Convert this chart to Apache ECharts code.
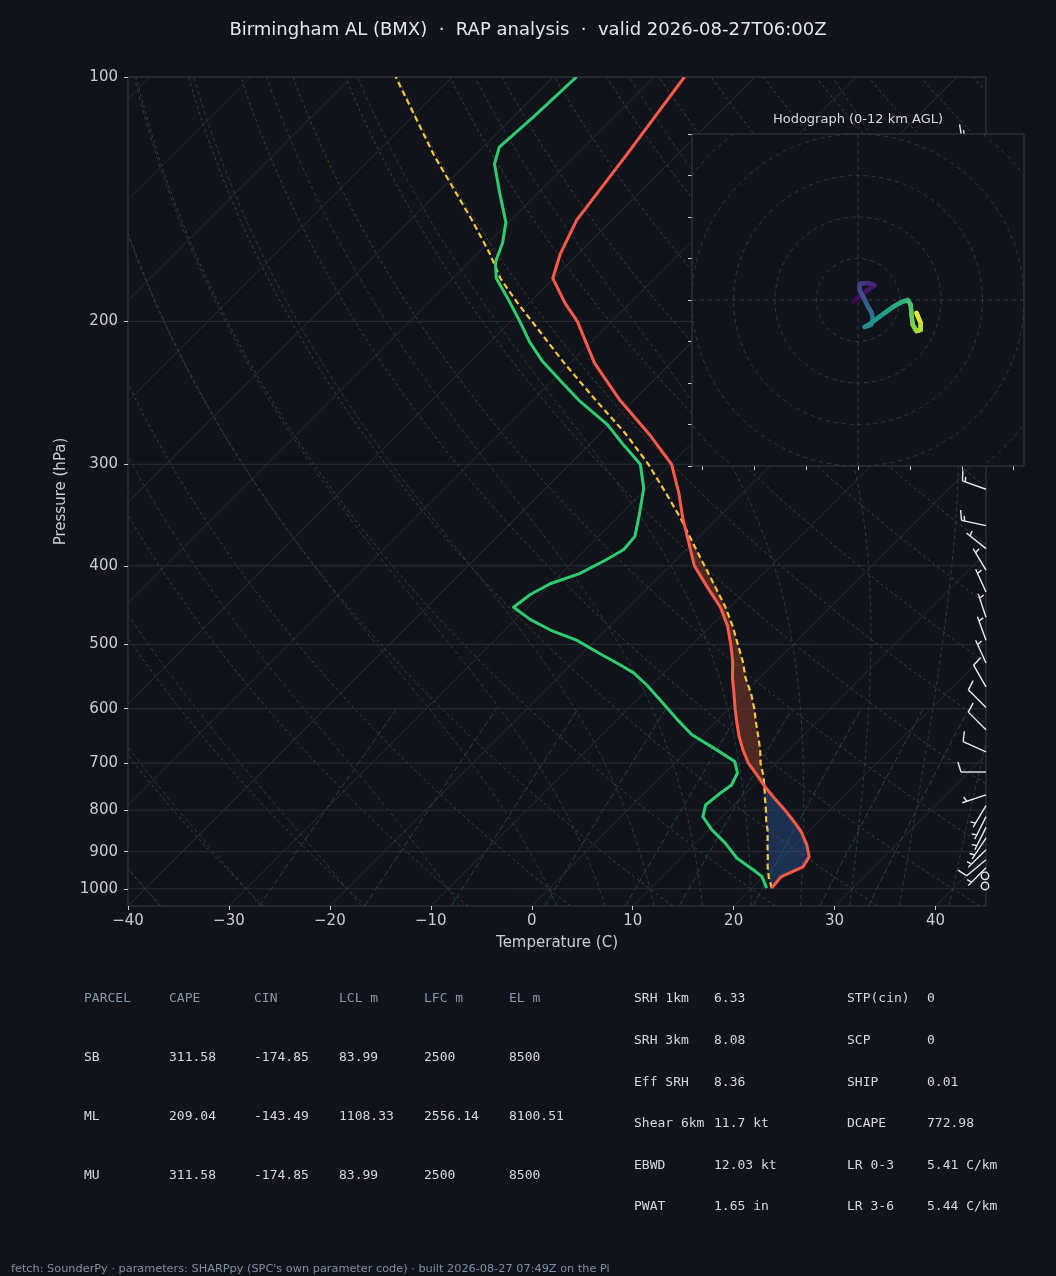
<!DOCTYPE html>
<html><head><meta charset="utf-8">
<script src="https://cdn.jsdelivr.net/npm/echarts@6/dist/echarts.min.js"></script>
<style>html,body{margin:0;padding:0;background:#10141a;}#c{width:1056px;height:1276px;}</style>
</head><body><div id="c"></div>
<script>
// ---------------- data ----------------
const titleText = 'Birmingham AL (BMX)  \u00b7  RAP analysis  \u00b7  valid 2026-08-27T06:00Z';
const hodoTitle = 'Hodograph (0-12 km AGL)';
const footerText = "fetch: SounderPy \u00b7 parameters: SHARPpy (SPC's own parameter code) \u00b7 built 2026-08-27 07:49Z on the Pi";

// temperature profile (hPa, degC) and surface-based parcel at the same levels
const tempP = [998,967,940,913,883,850,825,800,775,750,725,700,675,650,625,600,575,550,525,500,475,450,425,400,375,350,325,300,275,250,225,200,190,177,165,150,125,100];
const tempC = [22.0,21.8,23.0,22.6,21.2,19.3,17.5,15.6,13.5,11.4,9.4,7.3,5.5,3.8,2.2,0.6,-1.0,-2.7,-4.3,-6.2,-8.3,-10.9,-14.2,-17.6,-20.4,-23.4,-26.4,-29.9,-35.2,-41.4,-47.6,-53.4,-56.4,-60.1,-61.8,-63.5,-65.0,-67.0];
const parcelC = [22.0,20.6,19.5,18.5,17.3,16.0,14.8,13.7,12.5,11.3,10.0,8.5,7.2,5.7,4.1,2.5,0.7,-1.4,-3.3,-5.5,-7.8,-10.4,-13.4,-16.6,-20.0,-23.6,-27.7,-32.2,-37.5,-43.8,-50.6,-57.9,-61.1,-65.3,-68.8,-73.9,-84.0,-95.6];

// dewpoint profile
const dewP = [998,966,948,917,878,846,815,788,762,745,720,697,671,646,622,588,561,542,530,513,494,480,466,450,434,421,409,393,382,368,345,321,300,283,268,251,237,224,212,200,188,177,169,160,151,139,128,122,112,100];
const dewC = [21.5,19.9,18.4,15.6,12.9,10.3,8.1,7.2,7.5,7.8,7.2,5.8,2.4,-1.1,-3.7,-7.4,-10.5,-13.0,-15.1,-18.3,-21.9,-25.5,-28.5,-31.4,-31.0,-30.1,-28.2,-26.9,-26.2,-26.4,-28.2,-30.3,-33.0,-36.8,-40.2,-45.2,-49.1,-52.9,-56.1,-59.1,-62.4,-65.7,-67.4,-68.6,-70.3,-73.8,-77.2,-78.4,-78.0,-77.7];

// wind barbs (hPa, u kt, v kt)
const windP = [992,964,942,921,895,866,840,815,790,766,718,678,637,598,564,527,494,463,431,405,381,357,322,300,270,240,210,180,150,119];
const windU = [0,0,3.5,6,5,4,3,3,3,6,10,9,7,7,5,2.5,2,2,2.5,3,5,14,14,14,15,15,15,15,15,14];
const windV = [0,0,3.5,5,5,6,6,6,5,2,0,-4,-7,-7,-8.7,-5.5,-5.5,-6,-5.5,-5,-4,-3,-5,-6,-5,-4,-3,-3,-3,-2];

// hodograph trace (km AGL, u kt, v kt)
const hodoH = [0,0.5,1,1.5,2,2.5,3,3.5,4,4.5,5,5.5,6,6.5,7,7.5,8,8.5,9,9.5,10,10.5,11,11.5,12];
const hodoU = [-1.2,1.4,4.0,2.3,0.4,0.4,1.4,2.3,3.3,3.6,3.1,1.6,2.8,5.2,8.4,10.5,12.0,12.7,12.9,13.2,14.1,15.1,15.1,14.4,14.1];
const hodoV = [-0.4,1.7,3.6,4.1,3.9,2.4,0.5,-1.4,-3.1,-4.8,-6.0,-6.5,-5.8,-4.0,-1.7,-0.5,0.0,-1.2,-3.6,-6.0,-7.5,-7.2,-5.5,-3.9,-3.1];
const hodoRings = [10,20,30,40,50];
const hodoXTicks = [-37.5,-25,-12.5,0,12.5,25,37.5];
const viridis = ['#440154','#482878','#3e4989','#31688e','#26828e','#1f9e89','#35b779','#6ece58','#b5de2b','#fde725'];

// axis ticks
const pressureTicks = [100,200,300,400,500,600,700,800,900,1000];
const tempTicks = [-40,-30,-20,-10,0,10,20,30,40];

// parameter tables
const tblHeaders = ['PARCEL','CAPE','CIN','LCL m','LFC m','EL m'];
const parcelNames = ['SB','ML','MU'];
const capeVals = [311.58,209.04,311.58];
const cinVals = [-174.85,-143.49,-174.85];
const lclVals = [83.99,1108.33,83.99];
const lfcVals = [2500,2556.14,2500];
const elVals = [8500,8100.51,8500];
const paramLabelsA = ['SRH 1km','SRH 3km','Eff SRH','Shear 6km','EBWD','PWAT'];
const paramValuesA = ['6.33','8.08','8.36','11.7 kt','12.03 kt','1.65 in'];
const paramLabelsB = ['STP(cin)','SCP','SHIP','DCAPE','LR 0-3','LR 3-6'];
const paramValuesB = ['0','0','0.01','772.98','5.41 C/km','5.44 C/km'];

// ---------------- reference-line definitions (thermodynamic grid) ----------------
const dryT0 = []; for (let t = -40; t <= 200; t += 10) dryT0.push(t);
const moistT0 = [-40,-30,-20,-10,0,5,10,15,20,25,30,35,40,45];
const mixW = [0.0004,0.001,0.002,0.004,0.007,0.01,0.016,0.024,0.032];
const isoT = []; for (let t = -130; t <= 40; t += 10) isoT.push(t);

const LNMIN = Math.log(100), LNMAX = Math.log(1050);
const pGrid = []; for (let i = 0; i <= 70; i++) pGrid.push(Math.exp(LNMAX - (LNMAX - LNMIN) * i / 70));

const dryLines = dryT0.map(t0 => pGrid.map(p => [(t0 + 273.15) * Math.pow(p / 1000, 0.28571) - 273.15, p]));
function moistRate(T, p) {
  const es = 6.112 * Math.exp(17.67 * (T - 273.15) / (T - 29.65));
  const rs = 0.622 * es / (p - es);
  const Rd = 287.04749, Cp = 1004.6662, Lv = 2.50084e6;
  return (Rd * T + Lv * rs) / (Cp + Lv * Lv * rs * 0.622 / (Rd * T * T));
}
function integrate(T0, lnA, lnB, n) {
  const out = [];
  let T = T0, l = lnA; const h = (lnB - lnA) / n;
  out.push([T - 273.15, Math.exp(l)]);
  for (let i = 0; i < n; i++) {
    const k1 = moistRate(T, Math.exp(l));
    const k2 = moistRate(T + h / 2 * k1, Math.exp(l + h / 2));
    const k3 = moistRate(T + h / 2 * k2, Math.exp(l + h / 2));
    const k4 = moistRate(T + h * k3, Math.exp(l + h));
    T += h / 6 * (k1 + 2 * k2 + 2 * k3 + k4); l += h;
    out.push([T - 273.15, Math.exp(l)]);
  }
  return out;
}
const moistLines = moistT0.map(t0 => {
  const down = integrate(t0 + 273.15, Math.log(1000), LNMAX, 3).reverse();
  const up = integrate(t0 + 273.15, Math.log(1000), LNMIN, 90);
  return down.concat(up.slice(1));
});
const pMix = []; for (let i = 0; i <= 12; i++) pMix.push(1050 - 450 * i / 12);
const mixLines = mixW.map(w => pMix.map(p => {
  const e = p * w / (0.622 + w); const l = Math.log(e / 6.112);
  return [243.5 * l / (17.67 - l), p];
}));
const isoLines = isoT.map(t => [[t, 1050], [t, 100]]);

// ---------------- helpers ----------------
const BG = '#10141a', SPINE = '#333d4a', TXT = '#c9cdd3';
function sk(api, T, p) {
  const c = api.coord([T, Math.log(p)]);
  const b = api.coord([T, LNMAX]);
  return [c[0] + (b[1] - c[1]), c[1]];
}
function hex2rgb(h) { return [parseInt(h.slice(1, 3), 16), parseInt(h.slice(3, 5), 16), parseInt(h.slice(5, 7), 16)]; }
function cmap(t) {
  t = Math.max(0, Math.min(1, t));
  const x = t * (viridis.length - 1), i = Math.min(viridis.length - 2, Math.floor(x)), f = x - i;
  const a = hex2rgb(viridis[i]), b = hex2rgb(viridis[i + 1]);
  return 'rgb(' + a.map((v, k) => Math.round(v + (b[k] - v) * f)).join(',') + ')';
}
function lineFamily(lines, style, z) {
  return {
    type: 'custom', coordinateSystem: 'cartesian2d', xAxisIndex: 0, yAxisIndex: 0,
    clip: true, z: z, silent: true,
    data: lines.map((_, i) => [0, i]),
    renderItem: (params, api) => ({
      type: 'polyline',
      shape: { points: lines[params.dataIndex].map(pt => sk(api, pt[0], pt[1])) },
      style: Object.assign({ fill: null }, style)
    })
  };
}
function profile(P, C, style, z) {
  return {
    type: 'custom', coordinateSystem: 'cartesian2d', xAxisIndex: 0, yAxisIndex: 0,
    clip: true, z: z, silent: true, data: [[0, 0]],
    renderItem: (params, api) => ({
      type: 'polyline',
      shape: { points: P.map((p, i) => sk(api, C[i], p)) },
      style: Object.assign({ fill: null, lineJoin: 'round' }, style)
    })
  };
}

const series = [];
// isobars
series.push({
  type: 'custom', coordinateSystem: 'cartesian2d', clip: true, z: 1, silent: true,
  data: pressureTicks.map((p) => [0, Math.log(p)]),
  renderItem: (params, api) => {
    const p = pressureTicks[params.dataIndex];
    const a = api.coord([-40, Math.log(p)]), b = api.coord([45, Math.log(p)]);
    return { type: 'line', shape: { x1: a[0], y1: a[1], x2: b[0], y2: b[1] }, style: { stroke: '#272e38', lineWidth: 1 } };
  }
});
series.push(lineFamily(isoLines, { stroke: '#272e38', lineWidth: 1 }, 1));
series.push(lineFamily(dryLines, { stroke: '#4d3d2b', lineWidth: 1, lineDash: [3, 3] }, 1));
series.push(lineFamily(moistLines, { stroke: '#243d47', lineWidth: 1, lineDash: [4, 3] }, 1));
series.push(lineFamily(mixLines, { stroke: '#26424d', lineWidth: 1, lineDash: [6, 3] }, 1));

// CIN / CAPE shading between temperature and parcel
series.push({
  type: 'custom', coordinateSystem: 'cartesian2d', clip: true, z: 2, silent: true, data: [[0, 0]],
  renderItem: (params, api) => {
    const kids = [];
    let state = 'cin';
    const add = (pts, col) => kids.push({ type: 'polygon', shape: { points: pts }, style: { fill: col } });
    for (let i = 0; i < tempP.length - 1 && state !== 'done'; i++) {
      const p0 = tempP[i], p1 = tempP[i + 1];
      const d0 = parcelC[i] - tempC[i], d1 = parcelC[i + 1] - tempC[i + 1];
      const col = state === 'cin' ? 'rgba(45,85,150,0.45)' : 'rgba(140,62,40,0.5)';
      const want = state === 'cin' ? (d => d <= 0) : (d => d >= 0);
      if (want(d0) && want(d1)) {
        add([sk(api, tempC[i], p0), sk(api, tempC[i + 1], p1), sk(api, parcelC[i + 1], p1), sk(api, parcelC[i], p0)], col);
      } else {
        const f = d0 / (d0 - d1);
        const lp = Math.log(p0) + f * (Math.log(p1) - Math.log(p0));
        const pc = Math.exp(lp);
        const tc = tempC[i] + f * (tempC[i + 1] - tempC[i]);
        const X = sk(api, tc, pc);
        if (want(d0)) add([sk(api, tempC[i], p0), X, sk(api, parcelC[i], p0)], col);
        if (state === 'cin') {
          state = 'cape';
          add([X, sk(api, tempC[i + 1], p1), sk(api, parcelC[i + 1], p1)], 'rgba(140,62,40,0.5)');
        } else state = 'done';
      }
    }
    return { type: 'group', children: kids };
  }
});

series.push(profile(tempP, parcelC, { stroke: '#f4c542', lineWidth: 2.2, lineDash: [6, 3.5] }, 3));
series.push(profile(dewP, dewC, { stroke: '#2ecc71', lineWidth: 3 }, 4));
series.push(profile(tempP, tempC, { stroke: '#ff5b4a', lineWidth: 3 }, 4));

// wind barbs on the right edge
series.push({
  type: 'custom', coordinateSystem: 'cartesian2d', clip: false, z: 5, silent: true,
  data: windP.map((p, i) => [0, Math.log(p), windU[i], windV[i]]),
  renderItem: (params, api) => {
    const lnp = api.value(1), u = api.value(2), v = api.value(3);
    const bx = api.coord([45, lnp])[0], by = api.coord([0, lnp])[1];
    const L = 25, col = '#e6e9ed', lw = 1.4;
    const spd = Math.hypot(u, v);
    const n = Math.round(spd / 5) * 5;
    if (n < 5) {
      return { type: 'circle', shape: { cx: bx - 1, cy: by, r: 0.15 * L }, style: { fill: null, stroke: col, lineWidth: lw } };
    }
    const dx = -u / spd, dy = v / spd;
    const px = -dy, py = dx;
    const kids = [{ type: 'line', shape: { x1: bx, y1: by, x2: bx + dx * L, y2: by + dy * L }, style: { stroke: col, lineWidth: lw } }];
    const full = Math.floor(n / 10), half = (n % 10) >= 5;
    let off = L;
    const sp = 0.125 * L;
    for (let k = 0; k < full; k++) {
      const sx = bx + dx * off, sy = by + dy * off;
      kids.push({ type: 'line', shape: { x1: sx, y1: sy, x2: sx + px * 0.4 * L + dx * 0.125 * L, y2: sy + py * 0.4 * L + dy * 0.125 * L }, style: { stroke: col, lineWidth: lw } });
      off -= sp;
    }
    if (half) {
      if (full === 0) off -= 1.5 * sp;
      const sx = bx + dx * off, sy = by + dy * off;
      kids.push({ type: 'line', shape: { x1: sx, y1: sy, x2: sx + px * 0.2 * L + dx * 0.0625 * L, y2: sy + py * 0.2 * L + dy * 0.0625 * L }, style: { stroke: col, lineWidth: lw } });
    }
    return { type: 'group', children: kids };
  }
});

// hodograph background + frame
series.push({
  type: 'custom', coordinateSystem: 'cartesian2d', xAxisIndex: 1, yAxisIndex: 1, clip: false, z: 10, silent: true,
  data: [[0, 0]],
  renderItem: (params, api) => {
    const tl = api.coord([-40, 40]), br = api.coord([40, -40]);
    return { type: 'rect', shape: { x: tl[0], y: tl[1], width: br[0] - tl[0], height: br[1] - tl[1] }, style: { fill: BG, stroke: SPINE, lineWidth: 1 } };
  }
});
// hodograph rings and crosshair
series.push({
  type: 'custom', coordinateSystem: 'cartesian2d', xAxisIndex: 1, yAxisIndex: 1, clip: true, z: 11, silent: true,
  data: [[0, 0]],
  renderItem: (params, api) => {
    const c = api.coord([0, 0]);
    const kids = [];
    hodoRings.forEach(r => {
      const e = api.coord([r, 0]);
      kids.push({ type: 'circle', shape: { cx: c[0], cy: c[1], r: e[0] - c[0] }, style: { fill: null, stroke: '#2f3a47', lineWidth: 1, lineDash: [4, 4] } });
    });
    const l = api.coord([-40, 0]), r = api.coord([40, 0]), t = api.coord([0, 40]), b = api.coord([0, -40]);
    kids.push({ type: 'line', shape: { x1: l[0], y1: l[1], x2: r[0], y2: r[1] }, style: { stroke: '#2f3a47', lineWidth: 1, lineDash: [4, 4] } });
    kids.push({ type: 'line', shape: { x1: t[0], y1: t[1], x2: b[0], y2: b[1] }, style: { stroke: '#2f3a47', lineWidth: 1, lineDash: [4, 4] } });
    return { type: 'group', children: kids };
  }
});
// hodograph trace coloured by height (viridis)
series.push({
  type: 'custom', coordinateSystem: 'cartesian2d', xAxisIndex: 1, yAxisIndex: 1, clip: true, z: 12, silent: true,
  data: hodoU.map((u, i) => [u, hodoV[i], hodoH[i]]),
  renderItem: (params, api) => {
    const i = params.dataIndex;
    if (i >= hodoU.length - 1) return null;
    const kids = [];
    const a = api.coord([hodoU[i], hodoV[i]]), b = api.coord([hodoU[i + 1], hodoV[i + 1]]);
    const sub = 4;
    for (let k = 0; k < sub; k++) {
      const f0 = k / sub, f1 = (k + 1) / sub;
      const h = hodoH[i] + (hodoH[i + 1] - hodoH[i]) * (f0 + f1) / 2;
      kids.push({ type: 'line',
        shape: { x1: a[0] + (b[0] - a[0]) * f0, y1: a[1] + (b[1] - a[1]) * f0, x2: a[0] + (b[0] - a[0]) * f1, y2: a[1] + (b[1] - a[1]) * f1 },
        style: { stroke: cmap(h / 12), lineWidth: 4.5, lineCap: 'round' } });
    }
    return { type: 'group', children: kids };
  }
});

// ---------------- text elements ----------------
const graphics = [];
const mono = '13px "DejaVu Sans Mono", monospace';
function txt(x, y, s, fill, font, align) {
  graphics.push({ type: 'text', x: x, y: y, silent: true, z: 20,
    style: { text: s, fill: fill, font: font, textAlign: align || 'left', textVerticalAlign: 'middle', align: align || 'left', verticalAlign: 'middle' } });
}
txt(858, 120, hodoTitle, '#d6dade', '13px "DejaVu Sans", sans-serif', 'center');
const colX = [84, 169, 254, 339, 424, 509];
tblHeaders.forEach((h, i) => txt(colX[i], 999, h, '#8797aa', mono));
parcelNames.forEach((n, r) => {
  const y = 1058 + 59 * r;
  const row = [n, String(capeVals[r]), String(cinVals[r]), String(lclVals[r]), String(lfcVals[r]), String(elVals[r])];
  row.forEach((s, i) => txt(colX[i], y, s, '#d5d8dc', mono));
});
paramLabelsA.forEach((s, i) => {
  const y = 999 + 41.6 * i;
  txt(634, y, s, '#d5d8dc', mono);
  txt(714, y, paramValuesA[i], '#d5d8dc', mono);
  txt(847, y, paramLabelsB[i], '#d5d8dc', mono);
  txt(927, y, paramValuesB[i], '#d5d8dc', mono);
});
txt(11, 1269, footerText, '#7f8fa3', '11.3px "DejaVu Sans", sans-serif');

const lnTicks = pressureTicks.map(p => Math.log(p));
const option = {
  backgroundColor: BG,
  animation: false,
  title: { text: titleText, left: 'center', top: 16, textStyle: { color: '#e4e7ea', fontSize: 18, fontWeight: 'normal', fontFamily: 'DejaVu Sans' } },
  grid: [
    { left: 128, top: 77, width: 858, height: 829, show: true, borderColor: SPINE, borderWidth: 1, backgroundColor: 'transparent' },
    { left: 692, top: 134, width: 332, height: 332, show: false }
  ],
  xAxis: [
    { gridIndex: 0, type: 'value', min: -40, max: 45,
      axisLine: { show: false, onZero: false }, splitLine: { show: false },
      axisTick: { show: true, customValues: tempTicks, length: 4, lineStyle: { color: TXT } },
      axisLabel: { customValues: tempTicks, color: TXT, fontSize: 15, fontFamily: 'DejaVu Sans', margin: 8,
        formatter: v => (v < 0 ? '\u2212' + Math.abs(v) : String(v)) },
      name: 'Temperature (C)', nameLocation: 'middle', nameGap: 30,
      nameTextStyle: { color: TXT, fontSize: 15, fontFamily: 'DejaVu Sans' } },
    { gridIndex: 1, type: 'value', min: -40, max: 40,
      axisLine: { show: false, onZero: false }, splitLine: { show: false }, axisLabel: { show: false },
      axisTick: { show: true, customValues: hodoXTicks, length: 4, lineStyle: { color: TXT } } }
  ],
  yAxis: [
    { gridIndex: 0, type: 'value', inverse: true, min: LNMIN, max: LNMAX,
      axisLine: { show: false, onZero: false }, splitLine: { show: false },
      axisTick: { show: true, customValues: lnTicks, length: 4, lineStyle: { color: TXT } },
      axisLabel: { customValues: lnTicks, color: TXT, fontSize: 15, fontFamily: 'DejaVu Sans', margin: 10,
        formatter: v => String(Math.round(Math.exp(v))) },
      name: 'Pressure (hPa)', nameLocation: 'middle', nameGap: 57, nameRotate: 90,
      nameTextStyle: { color: TXT, fontSize: 15, fontFamily: 'DejaVu Sans' } },
    { gridIndex: 1, type: 'value', min: -40, max: 40, interval: 10,
      axisLine: { show: false, onZero: false }, splitLine: { show: false }, axisLabel: { show: false },
      axisTick: { show: true, length: 4, lineStyle: { color: TXT } } }
  ],
  series: series,
  graphic: { elements: graphics }
};
const chart = echarts.init(document.getElementById('c'), null, { renderer: 'canvas' });
chart.setOption(option);
</script>
</body></html>
